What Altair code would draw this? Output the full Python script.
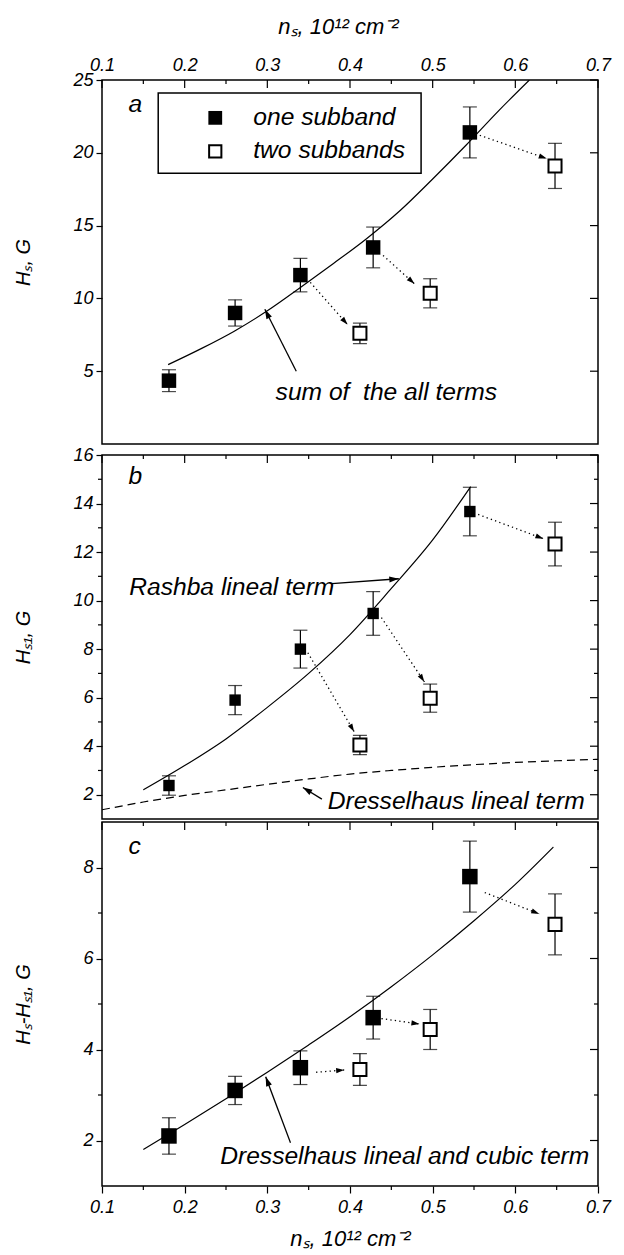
import math
import altair as alt
import pandas as pd

W, H = 496, 364
X_DOMAIN = [0.1, 0.7]
FONT = "Liberation Sans"
TXT = 24.6

# ---------------- data ----------------
x_major = [0.1, 0.2, 0.3, 0.4, 0.5, 0.6, 0.7]
x_minor = [0.15, 0.25, 0.35, 0.45, 0.55, 0.65]

x_one = [0.181, 0.261, 0.340, 0.428, 0.545]   # one subband (filled)
x_two = [0.412, 0.497, 0.648]                 # two subbands (open)

# panel a : H_s
a_one = [4.35, 9.0, 11.6, 13.5, 21.4]
a_one_err = [0.75, 0.9, 1.15, 1.4, 1.75]
a_two = [7.6, 10.35, 19.1]
a_two_err = [0.7, 1.0, 1.55]
a_curve_x = [0.18, 0.22, 0.26, 0.30, 0.34, 0.38, 0.42, 0.46, 0.50, 0.54, 0.58, 0.617]
a_curve_y = [5.45, 6.55, 7.75, 9.15, 10.75, 12.4, 14.1, 16.0, 18.2, 20.5, 22.9, 25.0]

# panel b : H_s1
b_one = [2.38, 5.9, 8.0, 9.47, 13.67]
b_one_err = [0.4, 0.6, 0.78, 0.9, 1.0]
b_two = [4.05, 5.98, 12.33]
b_two_err = [0.4, 0.58, 0.9]
b_rashba_x = [0.15, 0.20, 0.25, 0.30, 0.35, 0.40, 0.45, 0.50, 0.546]
b_rashba_y = [2.2, 3.2, 4.3, 5.6, 7.0, 8.6, 10.5, 12.5, 14.7]
b_dress_x = [0.1, 0.15, 0.2, 0.25, 0.3, 0.35, 0.4, 0.45, 0.5, 0.55, 0.6, 0.65, 0.7]
b_dress_y = [1.38, 1.7, 1.97, 2.2, 2.43, 2.65, 2.85, 3.0, 3.13, 3.24, 3.33, 3.4, 3.46]

# panel c : H_s - H_s1
c_one = [2.1, 3.1, 3.6, 4.7, 7.8]
c_one_err = [0.4, 0.31, 0.37, 0.47, 0.78]
c_two = [3.56, 4.44, 6.75]
c_two_err = [0.35, 0.44, 0.67]
c_curve_x = [0.15, 0.2, 0.25, 0.3, 0.35, 0.4, 0.45, 0.5, 0.55, 0.6, 0.646]
c_curve_y = [1.8, 2.35, 2.92, 3.5, 4.1, 4.72, 5.38, 6.08, 6.83, 7.63, 8.45]

# dotted arrows (start x, start y, end x, end y)
a_dots = [(0.557, 21.2, 0.638, 19.6), (0.44, 12.95, 0.478, 11.0), (0.352, 11.1, 0.397, 8.2)]
b_dots = [(0.555, 13.55, 0.634, 12.55), (0.438, 9.3, 0.490, 6.65), (0.349, 7.85, 0.405, 4.6)]
c_dots = [(0.563, 7.45, 0.629, 6.98), (0.438, 4.68, 0.484, 4.56), (0.359, 3.5, 0.393, 3.55)]

# annotation arrows (tail x, tail y, head x, head y)
a_annos = [(0.335, 5.0, 0.297, 9.25)]
b_annos = [(0.378, 10.7, 0.459, 10.9), (0.366, 1.82, 0.343, 2.3)]
c_annos = [(0.328, 1.95, 0.298, 3.4)]

# annotation texts
a_texts = [(0.31, 3.5, "sum of\u00a0 the all terms")]
b_texts = [(0.133, 10.5, "Rashba lineal term"), (0.373, 1.7, "Dresselhaus lineal term")]
c_texts = [(0.243, 1.63, "Dresselhaus lineal and cubic term")]

legend_labels = ["one subband", "two subbands"]
x_title = "nₛ, 10¹² cm⁻²"

ARROW = "M0,0L-1,-0.32L-1,0.32Z"


def xs(field, axis):
    return alt.X(f"{field}:Q", scale=alt.Scale(domain=X_DOMAIN, nice=False, zero=False), axis=axis)


def ys(field, ydom, axis):
    return alt.Y(f"{field}:Q", scale=alt.Scale(domain=ydom, nice=False, zero=False), axis=axis)


def screen_angle(x1, y1, x2, y2, ydom):
    dx = (x2 - x1) / (X_DOMAIN[1] - X_DOMAIN[0]) * W
    dy = -(y2 - y1) / (ydom[1] - ydom[0]) * H
    return math.degrees(math.atan2(dy, dx)) % 360


def yaxis(values, title):
    return alt.Axis(values=values, tickSize=6, tickWidth=1.2, tickColor="black",
                    domain=False, grid=False, labelFont=FONT, labelFontSize=18,
                    labelFontStyle="italic", labelColor="black", labelPadding=3,
                    title=title, titleFont=FONT, titleFontSize=20, titleFontWeight="normal",
                    titleFontStyle="italic", titleColor="black", titleX=-69, titleY=H / 2,
                    titleAngle=270, titleAlign="center", titleBaseline="bottom")


def xaxis_top():
    return alt.Axis(orient="top", values=x_major, format=".1f", ticks=False, domain=False,
                    grid=False, labelFont=FONT, labelFontSize=18, labelFontStyle="italic",
                    labelColor="black", labelPadding=6, labelFlush=False,
                    title=x_title, titleFont=FONT, titleFontSize=22,
                    titleFontWeight="normal", titleFontStyle="italic", titleColor="black",
                    titleX=W / 2 - 12, titleY=-42, titleAlign="center", titleBaseline="bottom")


def xaxis_bottom():
    # titleY is relative to the bottom axis group (which sits at the plot's bottom edge)
    return alt.Axis(orient="bottom", values=x_major, format=".1f", tickSize=7, tickWidth=1.2,
                    tickColor="black", domain=False, grid=False, labelFont=FONT, labelFontSize=18,
                    labelFontStyle="italic", labelColor="black", labelPadding=5, labelFlush=False,
                    title=x_title, titleFont=FONT, titleFontSize=22,
                    titleFontWeight="normal", titleFontStyle="italic", titleColor="black",
                    titleX=W / 2, titleY=42, titleAlign="center", titleBaseline="top")


def panel(ydom, y_major, y_minor, ytitle, xax, curves, one, one_err, two, two_err,
          dots, annos, texts, letter, letter_y, filled_size, legend=False):
    X = lambda f: xs(f, xax)
    Y = lambda f: ys(f, ydom, yaxis(y_major, ytitle))
    layers = []

    # axis ticks drawn by hand (inward on top and right, minor outward on left)
    tx = pd.DataFrame({"v": x_major + x_minor, "L": [8] * len(x_major) + [4] * len(x_minor)})
    for L in (8, 4):
        sub = tx[tx.L == L]
        layers.append(alt.Chart(sub).mark_rule(color="black", strokeWidth=1.2).encode(
            x=X("v"), y=alt.value(0), y2=alt.value(L)))
    ty_major = pd.DataFrame({"v": y_major})
    ty_minor = pd.DataFrame({"v": y_minor})
    layers.append(alt.Chart(ty_major).mark_rule(color="black", strokeWidth=1.2).encode(
        y=Y("v"), x=alt.value(W - 8), x2=alt.value(W)))
    if y_minor:
        layers.append(alt.Chart(ty_minor).mark_rule(color="black", strokeWidth=1.2).encode(
            y=Y("v"), x=alt.value(W - 4), x2=alt.value(W)))
        layers.append(alt.Chart(ty_minor).mark_rule(color="black", strokeWidth=1.2).encode(
            y=Y("v"), x=alt.value(-4), x2=alt.value(0)))
    if xax is not None and xax.to_dict().get("orient") == "bottom":
        layers.append(alt.Chart(pd.DataFrame({"v": x_minor})).mark_rule(
            color="black", strokeWidth=1.2).encode(x=X("v"), y=alt.value(H), y2=alt.value(H + 4)))

    # model curves
    for cx, cy, dash in curves:
        dfc = pd.DataFrame({"x": cx, "y": cy})
        mk = dict(color="black", strokeWidth=1.2, clip=True, interpolate="monotone")
        if dash:
            mk["strokeDash"] = [8, 5]
        layers.append(alt.Chart(dfc).mark_line(**mk).encode(x=X("x"), y=Y("y")))

    # dotted arrows from one to two subbands
    dl = []
    for i, (x1, y1, x2, y2) in enumerate(dots):
        dl += [{"g": i, "x": x1, "y": y1}, {"g": i, "x": x2, "y": y2}]
    layers.append(alt.Chart(pd.DataFrame(dl)).mark_line(
        color="black", strokeWidth=1.3, strokeDash=[1.3, 3.2]).encode(
        x=X("x"), y=Y("y"), detail="g:N"))
    heads = pd.DataFrame([{"x": x2, "y": y2, "a": screen_angle(x1, y1, x2, y2, ydom)}
                          for (x1, y1, x2, y2) in dots])
    layers.append(alt.Chart(heads).mark_point(shape=ARROW, filled=True, color="black",
                                              size=260, opacity=1).encode(
        x=X("x"), y=Y("y"), angle=alt.Angle("a:Q", scale=None)))

    # annotation arrows
    al = []
    for i, (x1, y1, x2, y2) in enumerate(annos):
        al += [{"g": i, "x": x1, "y": y1}, {"g": i, "x": x2, "y": y2}]
    layers.append(alt.Chart(pd.DataFrame(al)).mark_line(color="black", strokeWidth=1.3).encode(
        x=X("x"), y=Y("y"), detail="g:N"))
    aheads = pd.DataFrame([{"x": x2, "y": y2, "a": screen_angle(x1, y1, x2, y2, ydom)}
                           for (x1, y1, x2, y2) in annos])
    layers.append(alt.Chart(aheads).mark_point(shape=ARROW, filled=True, color="black",
                                               size=360, opacity=1).encode(
        x=X("x"), y=Y("y"), angle=alt.Angle("a:Q", scale=None)))

    # error bars
    eb = pd.DataFrame({"x": x_one + x_two,
                       "lo": [v - e for v, e in zip(one, one_err)] + [v - e for v, e in zip(two, two_err)],
                       "hi": [v + e for v, e in zip(one, one_err)] + [v + e for v, e in zip(two, two_err)]})
    layers.append(alt.Chart(eb).mark_rule(color="black", strokeWidth=1.2).encode(
        x=X("x"), y=Y("lo"), y2="hi"))
    for f in ("lo", "hi"):
        layers.append(alt.Chart(eb).mark_tick(color="black", thickness=1.2, size=14,
                                              orient="horizontal").encode(x=X("x"), y=Y(f)))

    # points
    layers.append(alt.Chart(pd.DataFrame({"x": x_one, "y": one})).mark_square(
        color="black", filled=True, size=filled_size, opacity=1).encode(x=X("x"), y=Y("y")))
    layers.append(alt.Chart(pd.DataFrame({"x": x_two, "y": two})).mark_square(
        filled=True, fill="white", stroke="black", strokeWidth=2, size=170, opacity=1).encode(
        x=X("x"), y=Y("y")))

    # texts
    tdf = pd.DataFrame([{"x": x, "y": y, "t": t} for x, y, t in texts])
    layers.append(alt.Chart(tdf).mark_text(align="left", baseline="middle", font=FONT,
                                           fontSize=TXT, fontStyle="italic", color="black").encode(
        x=X("x"), y=Y("y"), text="t:N"))
    layers.append(alt.Chart(pd.DataFrame({"x": [0.132], "y": [letter_y], "t": [letter]})).mark_text(
        align="left", baseline="middle", font=FONT, fontSize=TXT, fontStyle="italic",
        color="black").encode(x=X("x"), y=Y("y"), text="t:N"))

    if legend:
        box = pd.DataFrame({"x": [0.168], "x2": [0.486], "y": [18.6], "y2": [24.1]})
        layers.append(alt.Chart(box).mark_rect(fill="white", stroke="black", strokeWidth=1.5).encode(
            x=X("x"), x2="x2", y=Y("y"), y2="y2"))
        layers.append(alt.Chart(pd.DataFrame({"x": [0.237], "y": [22.4]})).mark_square(
            color="black", filled=True, size=190, opacity=1).encode(x=X("x"), y=Y("y")))
        layers.append(alt.Chart(pd.DataFrame({"x": [0.237], "y": [20.1]})).mark_square(
            filled=True, fill="white", stroke="black", strokeWidth=2, size=150, opacity=1).encode(
            x=X("x"), y=Y("y")))
        ldf = pd.DataFrame({"x": [0.283, 0.283], "y": [22.4, 20.1], "t": legend_labels})
        layers.append(alt.Chart(ldf).mark_text(align="left", baseline="middle", font=FONT,
                                               fontSize=TXT, fontStyle="italic", color="black").encode(
            x=X("x"), y=Y("y"), text="t:N"))

    return alt.layer(*layers).properties(width=W, height=H)


pa = panel([0, 25], [5, 10, 15, 20, 25], [], "Hₛ, G", xaxis_top(),
           [(a_curve_x, a_curve_y, False)], a_one, a_one_err, a_two, a_two_err,
           a_dots, a_annos, a_texts, "a", 23.3, 210, legend=True)
pb = panel([1, 16], [2, 4, 6, 8, 10, 12, 14, 16], [3, 5, 7, 9, 11, 13, 15], "Hₛ₁, G", None,
           [(b_rashba_x, b_rashba_y, False), (b_dress_x, b_dress_y, True)],
           b_one, b_one_err, b_two, b_two_err, b_dots, b_annos, b_texts, "b", 15.1, 130)
pc = panel([1, 9], [2, 4, 6, 8], [3, 5, 7], "Hₛ-Hₛ₁, G", xaxis_bottom(),
           [(c_curve_x, c_curve_y, False)], c_one, c_one_err, c_two, c_two_err,
           c_dots, c_annos, c_texts, "c", 8.45, 240)

chart = alt.vconcat(pa, pb, pc, spacing=0).properties(
    padding={"left": 12, "top": 14, "right": 10, "bottom": 2},
    background="white",
).configure_view(stroke="black", strokeWidth=1.5)

chart.save("out.html", embed_options={"renderer": "svg", "actions": False})
